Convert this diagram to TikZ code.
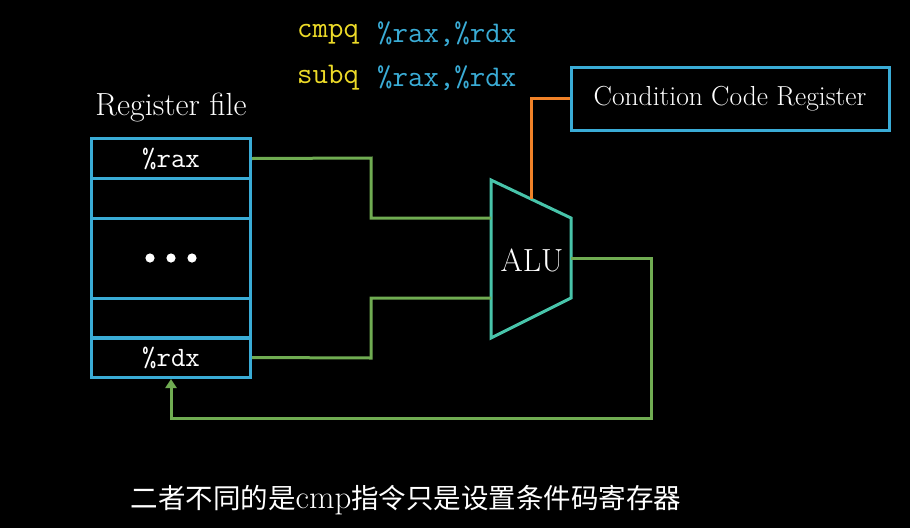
\documentclass[tikz,border=0pt]{standalone}
\usepackage{fontspec}
\usepackage{tikz}
\usetikzlibrary{arrows.meta}
\newfontfamily\cjk{Noto Sans CJK SC}
\definecolor{regblue}{RGB}{58,172,214}
\definecolor{wiregreen}{RGB}{112,172,82}
\definecolor{aluteal}{RGB}{72,196,170}
\definecolor{ccorange}{RGB}{240,130,40}
\definecolor{opyellow}{RGB}{236,218,40}

\begin{document}
\begin{tikzpicture}[x=1pt, y=-1pt, line join=miter,
    every node/.style={text=white, inner sep=0pt},
    regrow/.style={draw=regblue, line width=3pt, minimum width=159pt, minimum height=40pt},
    wire/.style={draw=wiregreen, line width=3pt},
    codetext/.style={font=\fontsize{30}{32}\selectfont\ttfamily}]
    \fill[black] (0,0) rectangle (910,528);
    % instructions
    \node[codetext, text=opyellow, anchor=west] (op1) at (297,34) {cmpq};
    \node[codetext, text=regblue, anchor=west] (args1) at (377,34) {\%rax,\%rdx};
    \node[codetext, text=opyellow, anchor=west] (op2) at (297,78) {subq};
    \node[codetext, text=regblue, anchor=west] (args2) at (377,78) {\%rax,\%rdx};
    % register file
    \node[font=\fontsize{32}{34}\selectfont] (rflabel) at (171,108) {Register file};
    \node[regrow, font=\fontsize{28}{30}\selectfont\ttfamily] (rax) at (171,158.5) {\%rax};
    \node[regrow] (r2) at (171,198) {};
    \node[regrow, minimum height=80pt] (dots) at (171,258) {};
    \foreach \dx in {-21,0,21}
        \fill[white] ([xshift=\dx pt]dots.center) circle (4.6pt);
    \node[regrow] (r4) at (171,318) {};
    \node[regrow, font=\fontsize{28}{30}\selectfont\ttfamily] (rdx) at (171,357.5) {\%rdx};
    % ALU
    \draw[aluteal, line width=3pt] (491,180) -- (571,218) -- (571,298) -- (491,338) -- cycle;
    \node[font=\fontsize{32}{34}\selectfont] (alu) at (532,260) {ALU};
    \coordinate (aluin1) at (491,218);
    \coordinate (aluin2) at (491,298);
    \coordinate (aluout) at (571,258);
    \coordinate (alutop) at (531,199);
    % condition codes
    \node[draw=regblue, line width=3pt, minimum width=318pt, minimum height=63pt, font=\fontsize{27.5}{30}\selectfont] (ccr) at (730,98.5) {Condition Code Register};
    % wires
    \draw[wire] (rax.east) -- (371,158) |- (aluin1);
    \draw[wire] (rdx.east) -- (371,358) |- (aluin2);
    \draw[wire, -{Triangle[length=9pt, width=11pt]}] (aluout) -| (651,418) -| (rdx.south);
    \draw[ccorange, line width=3pt] (alutop) |- (ccr.west);
    % caption
    \node[font=\fontsize{27.5}{30}\selectfont] (caption) at (406,500) {\cjk 二者不同的是{\rmfamily\fontsize{33}{30}\selectfont cmp}指令只是设置条件码寄存器};
\end{tikzpicture}
\end{document}
